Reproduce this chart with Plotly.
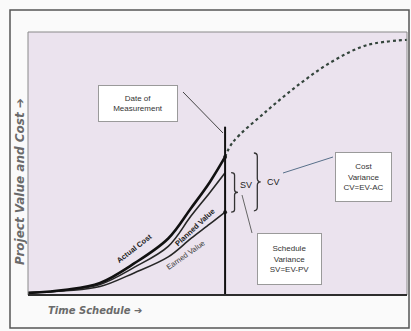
import plotly.graph_objects as go

# Earned value S-curves (time in % of schedule, value in % of budget)
time_to_date = [0, 10, 19, 28, 37, 43, 48, 52]
actual_cost = [0.8, 2.0, 4.6, 12.0, 21.5, 33.0, 43.0, 52.5]
planned_value = [0.8, 1.8, 4.0, 10.5, 18.5, 30.0, 39.0, 46.5]
earned_value = [0.8, 1.6, 3.2, 8.4, 14.5, 21.5, 27.0, 31.5]

# Remaining planned baseline after the status date
time_future = [52, 54, 63, 72, 80.5, 89.4, 100]
planned_future = [52.5, 58, 70, 80.6, 89, 95, 97]

date_of_measurement = 52
date_line_top = 64

W, H = 411, 331
L, R, T, B = 28, 4, 32, 36
PW, PH = W - L - R, H - T - B


def px(x, y):
    """Pixel position -> paper coordinates."""
    return (x - L) / PW, (H - B - y) / PH


INK = "#262626"

fig = go.Figure()

fig.add_trace(go.Scatter(x=time_future, y=planned_future, mode="lines",
                         line=dict(color="#34453c", width=2.2, dash="dot", shape="spline"),
                         hoverinfo="skip"))
fig.add_trace(go.Scatter(x=time_to_date, y=earned_value, mode="lines",
                         line=dict(color=INK, width=1.6, shape="spline"), hoverinfo="skip"))
fig.add_trace(go.Scatter(x=time_to_date, y=planned_value, mode="lines",
                         line=dict(color=INK, width=1.6, shape="spline"), hoverinfo="skip"))
fig.add_trace(go.Scatter(x=time_to_date, y=actual_cost, mode="lines",
                         line=dict(color="#111111", width=2.6, shape="spline"), hoverinfo="skip"))
fig.add_trace(go.Scatter(x=[date_of_measurement] * 2, y=[earned_value[-1], actual_cost[-1]],
                         mode="markers", marker=dict(color=INK, size=4), hoverinfo="skip"))

shapes = []
# status-date line
shapes.append(dict(type="line", xref="x", yref="y", x0=date_of_measurement, x1=date_of_measurement,
                   y0=0, y1=date_line_top, line=dict(color="#111111", width=2)))


def brace(x, y_low, y_high, w):
    m = (y_low + y_high) / 2
    q = (y_high - y_low) * 0.06
    return (f"M {x},{y_high} Q {x + w},{y_high} {x + w},{y_high - q} "
            f"L {x + w},{m + q} Q {x + w},{m} {x + 2 * w},{m} "
            f"Q {x + w},{m} {x + w},{m - q} L {x + w},{y_low + q} "
            f"Q {x + w},{y_low} {x},{y_low}")


sv_x = date_of_measurement + 1.6
cv_x = date_of_measurement + 7.6
shapes.append(dict(type="path", xref="x", yref="y",
                   path=brace(sv_x, earned_value[-1], planned_value[-1], 0.9),
                   line=dict(color="#333333", width=1.3)))
shapes.append(dict(type="path", xref="x", yref="y",
                   path=brace(cv_x, earned_value[-1] + 0.5, actual_cost[-1] + 1.5, 0.9),
                   line=dict(color="#333333", width=1.3)))

# outer frame and plot border
x0f, y0f = px(10, 328)
x1f, y1f = px(409, 10)
shapes.append(dict(type="rect", xref="paper", yref="paper", x0=x0f, y0=y0f, x1=x1f, y1=y1f,
                   line=dict(color="#555555", width=1.5), layer="below"))
shapes.append(dict(type="rect", xref="paper", yref="paper", x0=0, y0=0, x1=1, y1=1,
                   line=dict(color="#8a8a8a", width=1), layer="above"))
shapes.append(dict(type="line", xref="paper", yref="paper", x0=0, y0=0, x1=1, y1=0,
                   line=dict(color="#2d2d2d", width=2)))

# leader lines from the callouts
for (a, b), (c, d), col in [((183, 92), (223, 133), "#444444"),
                            ((283, 173), (333, 157), "#58708a"),
                            ((242, 195), (252, 233), "#666666")]:
    ax_, ay_ = px(a, b)
    bx_, by_ = px(c, d)
    shapes.append(dict(type="line", xref="paper", yref="paper", x0=ax_, y0=ay_, x1=bx_, y1=by_,
                       line=dict(color=col, width=1)))

annotations = []


def box(cx, cy, w, h, text):
    x, y = px(cx, cy)
    annotations.append(dict(xref="paper", yref="paper", x=x, y=y, text=text, showarrow=False,
                            xanchor="center", yanchor="middle",
                            width=w, height=h, bgcolor="#ffffff", bordercolor="#9a9a9a",
                            borderwidth=1, borderpad=1, align="center", valign="middle",
                            font=dict(family="Liberation Sans, Arial", size=8, color="#333333")))


box(138, 103, 76, 33, "Date of<br>Measurement")
box(363, 177, 53, 46, "Cost<br>Variance<br>CV=EV-AC")
box(289, 259, 61, 48, "Schedule<br>Variance<br>SV=EV-PV")


def label(cx, cy, text, angle, size=7.5, color="#222222", family="Liberation Sans, Arial"):
    x, y = px(cx, cy)
    annotations.append(dict(xref="paper", yref="paper", x=x, y=y, text=text, showarrow=False,
                            xanchor="center", yanchor="middle", textangle=angle,
                            font=dict(family=family, size=size, color=color)))


label(134, 248, "<b>Actual Cost</b>", -38)
label(195, 228, "<b>Planned Value</b>", -43)
label(185, 255, "Earned Value", -35, color="#3a3a3a")
label(246, 185, "SV", 0, size=9)
label(273, 182, "CV", 0, size=9)
label(95, 310, "<b><i>Time Schedule ➔</i></b>", 0, size=10, color="#6a6a6a",
      family="DejaVu Sans")
label(20, 182, "<b><i>Project Value and Cost ➔</i></b>", -90, size=12, color="#6a6a6a",
      family="DejaVu Sans")

fig.update_layout(
    width=W, height=H,
    margin=dict(l=L, r=R, t=T, b=B),
    paper_bgcolor="#fafafa",
    plot_bgcolor="#ebe3ee",
    showlegend=False,
    shapes=shapes,
    annotations=annotations,
    xaxis=dict(range=[0, 100], showgrid=False, zeroline=False, showticklabels=False,
               ticks="", fixedrange=True),
    yaxis=dict(range=[0, 100], showgrid=False, zeroline=False, showticklabels=False,
               ticks="", fixedrange=True),
)

fig.write_html("out.html")
